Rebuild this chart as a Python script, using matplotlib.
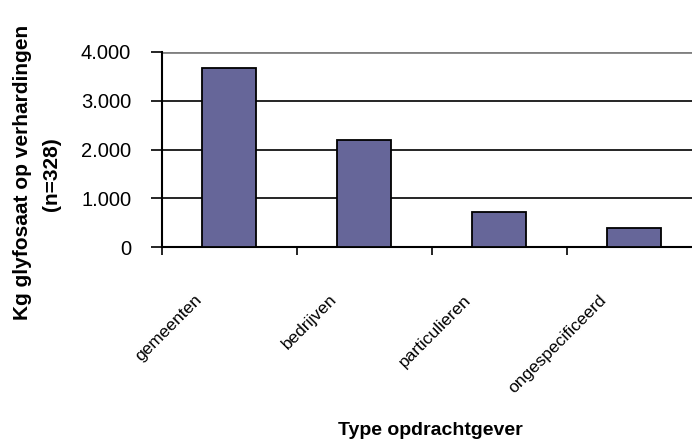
import matplotlib.pyplot as plt
from matplotlib.ticker import FuncFormatter
from matplotlib.transforms import ScaledTranslation

categories = ["gemeenten", "bedrijven", "particulieren", "ongespecificeerd"]
kg_glyfosaat = [3670, 2200, 720, 395]
y_ticks = [0, 1000, 2000, 3000, 4000]

plt.rcParams['font.family'] = ['Liberation Sans', 'DejaVu Sans']

fig = plt.figure(figsize=(6.92, 4.42), dpi=100)
ax = fig.add_axes([0.2337, 0.4405, 0.78, 0.4425])

x = range(len(categories))
ax.bar(x, kg_glyfosaat, width=0.4, color="#666699", edgecolor="black",
       linewidth=1.3, zorder=3)

ax.set_xlim(-0.5, len(categories) - 0.5)
ax.set_ylim(0, 4000)
ax.set_yticks(y_ticks)
ax.yaxis.set_major_formatter(FuncFormatter(
    lambda v, p: f"{int(v):,}".replace(",", ".")))
ax.tick_params(axis="y", direction="out", length=8, width=1.2,
               labelsize=14.5, pad=14, colors="black")

# category labels sit between the boundary ticks
ax.set_xticks([i - 0.5 for i in x])
ax.set_xticklabels([])
ax.set_xticks(list(x), minor=True)
ax.set_xticklabels(categories, minor=True, rotation=45, ha="right",
                   va="center", rotation_mode="anchor", fontsize=12.5,
                   family=['Liberation Sans Narrow', 'Liberation Sans'])
ax.tick_params(axis="x", which="major", direction="out", length=6, width=1.2)
ax.tick_params(axis="x", which="minor", length=0, pad=0)
off = ScaledTranslation(-30 / 100, -50 / 100, fig.dpi_scale_trans)
for lab in ax.get_xticklabels(minor=True):
    lab.set_transform(lab.get_transform() + off)

ax.yaxis.grid(True, color="black", linewidth=1.2, zorder=0)
ax.get_ygridlines()[-1].set_color("#808080")
ax.get_ygridlines()[-1].set_linewidth(2)
ax.set_axisbelow(True)

for s in ["top", "right"]:
    ax.spines[s].set_visible(False)
ax.spines["left"].set_linewidth(1.5)
ax.spines["bottom"].set_linewidth(1.5)

fig.text(0.0325, 0.609, "Kg glyfosaat op verhardingen", rotation=90,
         ha="center", va="center", fontsize=15, fontweight="bold")
fig.text(0.0744, 0.607, "(n=328)", rotation=90,
         ha="center", va="center", fontsize=15, fontweight="bold")
fig.text(0.6225, 0.025, "Type opdrachtgever", ha="center", va="center",
         fontsize=14, fontweight="bold")

fig.savefig("out.png", dpi=100)
